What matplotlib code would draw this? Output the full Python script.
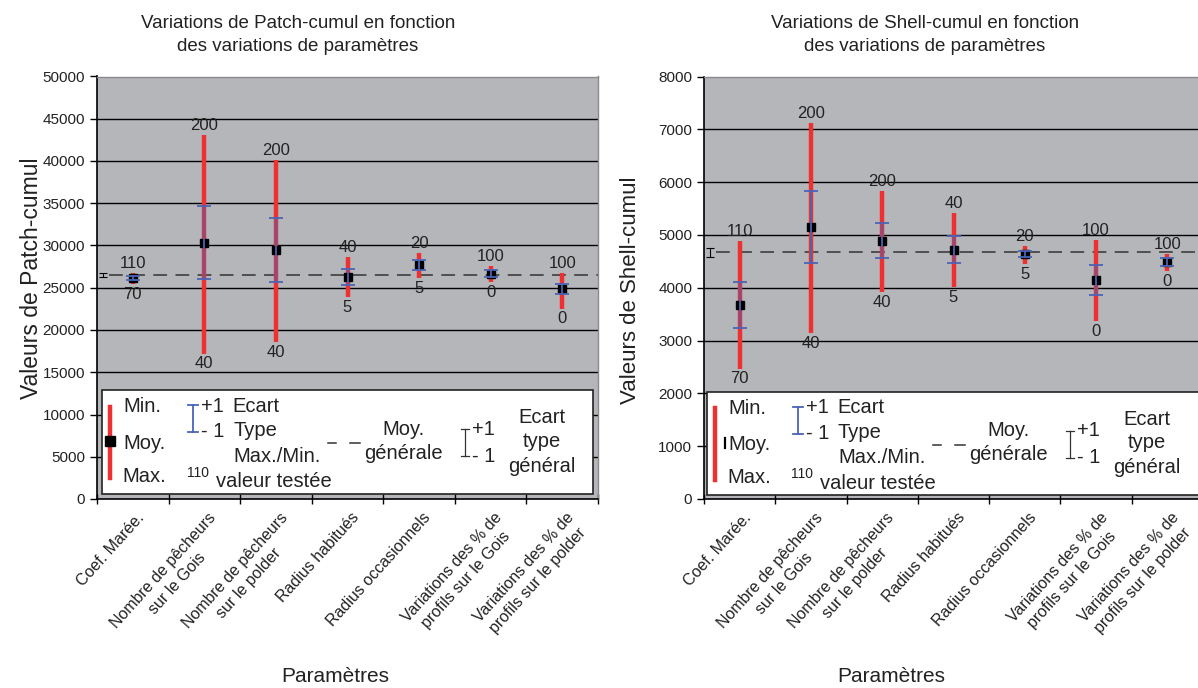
import numpy as np
import matplotlib
matplotlib.use('Agg')
import matplotlib.pyplot as plt
from matplotlib.patches import Rectangle
from matplotlib.lines import Line2D

plt.rcParams['font.family'] = ['Liberation Sans', 'DejaVu Sans']

### Data ###
categories = ["Coef. Marée.",
              "Nombre de pêcheurs\nsur le Gois",
              "Nombre de pêcheurs\nsur le polder",
              "Radius habitués",
              "Radius occasionnels",
              "Variations des % de\nprofils sur le Gois",
              "Variations des % de\nprofils sur le polder"]

top_labels = ['110', '200', '200', '40', '20', '100', '100']
bottom_labels = ['70', '40', '40', '5', '5', '0', '0']

# Patch-cumul
patch_mean = [26150, 30340, 29470, 26270, 27710, 26640, 24840]
patch_sd = [200, 4330, 3755, 950, 610, 415, 600]
patch_max = [26740, 43100, 40060, 28680, 29070, 27610, 26720]
patch_min = [25440, 17210, 18600, 23850, 26150, 25630, 22520]
patch_gmean = 26500
patch_gsd = 200

# Shell-cumul
shell_mean = [3680, 5150, 4888, 4720, 4636, 4150, 4488]
shell_sd = [438, 687, 334, 252, 63, 287, 70]
shell_max = [4882, 7112, 5833, 5418, 4794, 4907, 4643]
shell_min = [2469, 3143, 3912, 4019, 4447, 3370, 4309]
shell_gmean = 4668
shell_gsd = 85

W, H = 1198, 688
RED = '#ee3030'
BLUE = '#4a64b8'
GREY = '#b5b6ba'
INK = '#222222'


def P(x, y):
    # pixel position -> figure fraction
    return x / W, 1 - y / H


fig = plt.figure(figsize=(W / 100, H / 100), dpi=100)
ax_patch = fig.add_axes([97 / W, 1 - 499 / H, 501 / W, 422.5 / H])
ax_shell = fig.add_axes([704 / W, 1 - 499 / H, 499 / W, 422.5 / H])


def draw_panel(ax, mean, sd, vmax, vmin, gmean, gsd, ymax, ystep):
    x = np.arange(len(categories))
    ax.set_facecolor(GREY)
    ax.set_xlim(-0.5, 6.5)
    ax.set_ylim(0, ymax)
    yt = np.arange(0, ymax + 1, ystep)
    ax.set_yticks(yt)
    for v in yt[1:-1]:
        ax.axhline(v, color='black', lw=1, zorder=1)

    ax.plot([-0.33, 6.5], [gmean, gmean], color='#333333', lw=1.1,
            dashes=(9, 5.5), zorder=2)
    ax.errorbar([-0.42], [gmean], yerr=[gsd], fmt='none', ecolor='black',
                elinewidth=0.8, capsize=3, capthick=0.8, zorder=2)

    ax.vlines(x, vmin, vmax, color=RED, lw=3.2, zorder=3)
    ax.plot(x, mean, 's', color='black', ms=6, zorder=4)
    ax.errorbar(x, mean, yerr=sd, fmt='none', ecolor=BLUE, elinewidth=1.3,
                capsize=5, capthick=1.3, zorder=5)

    for i in range(len(x)):
        ax.annotate(top_labels[i], (x[i], vmax[i]), xytext=(0, 1.5),
                    textcoords='offset points', ha='center', va='bottom',
                    fontsize=12, color=INK)
        ax.annotate(bottom_labels[i], (x[i], vmin[i]), xytext=(0, -2),
                    textcoords='offset points', ha='center', va='top',
                    fontsize=12, color=INK)

    # category names sit a little right of the category centre (as in Excel)
    ax.set_xticks(x + 0.05)
    ax.set_xticklabels(categories, rotation=48, ha='right',
                       rotation_mode='anchor', fontsize=11.5,
                       multialignment='center', color=INK, linespacing=1.3)
    ax.tick_params(axis='x', which='major', length=0, pad=8)
    ax.set_xticks(np.arange(-0.5, 7, 1), minor=True)
    ax.tick_params(axis='x', which='minor', length=7, direction='inout',
                   width=1)
    ax.tick_params(axis='y', length=5, width=1, labelsize=11,
                   labelcolor=INK)
    for s in ['left', 'bottom']:
        ax.spines[s].set_color('black')
        ax.spines[s].set_linewidth(1.2)
    for s in ['top', 'right']:
        ax.spines[s].set_color('#8a8a8a')
        ax.spines[s].set_linewidth(1)


draw_panel(ax_patch, patch_mean, patch_sd, patch_max, patch_min,
           patch_gmean, patch_gsd, 50000, 5000)
draw_panel(ax_shell, shell_mean, shell_sd, shell_max, shell_min,
           shell_gmean, shell_gsd, 8000, 1000)


def fline(xs, ys, **kw):
    fx = [x / W for x in xs]
    fy = [1 - y / H for y in ys]
    fig.add_artist(Line2D(fx, fy, transform=fig.transFigure, **kw))


def ftext(x, y, s, **kw):
    kw.setdefault('fontsize', 14.5)
    kw.setdefault('color', INK)
    fig.text(*P(x, y), s, **kw)


def draw_key(ox, oy, x1, full_marker=True):
    # white key box
    x0, y0, y1 = 101.5 + ox, 390 + oy, 493.5 + oy
    fig.add_artist(Rectangle(P(x0, y1), (x1 - x0) / W, (y1 - y0) / H,
                             transform=fig.transFigure, facecolor='white',
                             edgecolor=INK, lw=1.2))
    fline([110 + ox, 110 + ox], [406.7 + oy, 478.3 + oy], color=RED, lw=3.2)
    if full_marker:
        fline([110 + ox], [440.7 + oy], marker='s', color='black', ms=6.5,
              lw=0)
    else:
        fline([119.5 + ox, 119.5 + ox], [436.5 + oy, 446.5 + oy],
              color='black', lw=1.6)
    ftext(123 + ox, 412.3 + oy, 'Min.', ha='left', va='baseline')
    ftext(123 + ox, 449 + oy, 'Moy.', ha='left', va='baseline')
    ftext(122 + ox, 481.7 + oy, 'Max.', ha='left', va='baseline')

    # +/- 1 standard deviation (blue)
    bx = 193 + ox
    fline([bx, bx], [405 + oy, 432.3 + oy], color=BLUE, lw=1.3)
    fline([bx - 4.7, bx + 4.7], [405 + oy, 405 + oy], color=BLUE, lw=1.3)
    fline([bx - 4.7, bx + 4.7], [432.3 + oy, 432.3 + oy], color=BLUE, lw=1.3)
    ftext(201 + ox, 411.7 + oy, '+1', ha='left', va='baseline')
    ftext(201 + ox, 437.3 + oy, '- 1', ha='left', va='baseline')
    ftext(232 + ox, 411.7 + oy, 'Ecart', ha='left', va='baseline')
    ftext(233 + ox, 436 + oy, 'Type', ha='left', va='baseline')

    ftext(276.7 + ox, 461.7 + oy, 'Max./Min.', ha='center', va='baseline')
    ftext(186.5 + ox, 476.7 + oy, '110', ha='left', va='baseline',
          fontsize=10)
    ftext(215.5 + ox, 487.3 + oy, 'valeur testée', ha='left', va='baseline')

    # general mean
    fline([328.3 + ox, 335.7 + ox], [443.3 + oy, 443.3 + oy], color='#333333',
          lw=1.1)
    fline([350 + ox, 360 + ox], [443.3 + oy, 443.3 + oy], color='#333333',
          lw=1.1)
    ftext(403.3 + ox, 435 + oy, 'Moy.', ha='center', va='baseline')
    ftext(403.3 + ox, 459 + oy, 'générale', ha='center', va='baseline')

    # general standard deviation
    kx = 465 + ox
    fline([kx, kx], [429.3 + oy, 456 + oy], color='#333333', lw=0.9)
    fline([kx - 4, kx + 4], [429.3 + oy, 429.3 + oy], color='#333333', lw=0.9)
    fline([kx - 4, kx + 4], [456 + oy, 456 + oy], color='#333333', lw=0.9)
    ftext(472 + ox, 435 + oy, '+1', ha='left', va='baseline')
    ftext(472 + ox, 461.7 + oy, '- 1', ha='left', va='baseline')
    ftext(541.7 + ox, 423.3 + oy, 'Ecart', ha='center', va='baseline')
    ftext(541.7 + ox, 446.7 + oy, 'type', ha='center', va='baseline')
    ftext(541.7 + ox, 471.7 + oy, 'général', ha='center', va='baseline')


draw_key(0, 0, 593)
draw_key(605, 1.5, 1215, full_marker=False)

# titles and axis names
fig.text(*P(298, 35), 'Variations de Patch-cumul en fonction\ndes variations de paramètres',
         ha='center', va='center', fontsize=13.5, linespacing=1.45, color=INK)
fig.text(*P(925, 35), 'Variations de Shell-cumul en fonction\ndes variations de paramètres',
         ha='center', va='center', fontsize=13.5, linespacing=1.45, color=INK)
fig.text(*P(335, 676), 'Paramètres', ha='center', va='center',
         fontsize=15, color=INK)
fig.text(*P(891, 676), 'Paramètres', ha='center', va='center',
         fontsize=15, color=INK)
fig.text(*P(32, 278), 'Valeurs de Patch-cumul', ha='center', va='center',
         rotation=90, fontsize=16.5, color=INK)
fig.text(*P(631, 290), 'Valeurs de Shell-cumul', ha='center', va='center',
         rotation=90, fontsize=16, color=INK)

fig.savefig('out.png', dpi=100, facecolor='white')
